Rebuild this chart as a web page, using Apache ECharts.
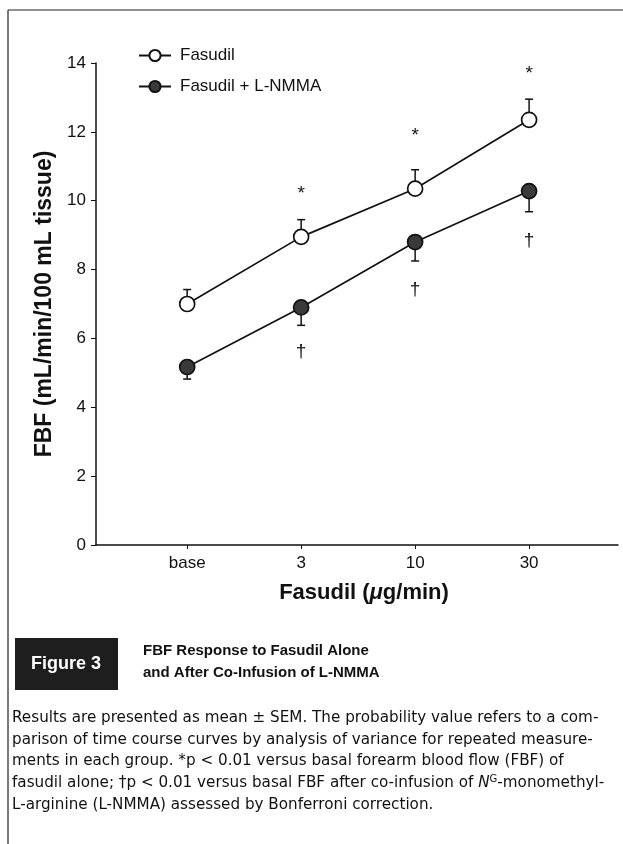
<!DOCTYPE html>
<html>
<head>
<meta charset="utf-8">
<script src="https://cdn.jsdelivr.net/npm/echarts@6/dist/echarts.min.js"></script>
<style>
  html, body { margin: 0; padding: 0; background: #fff; }
  #chart { width: 623px; height: 844px; }
</style>
</head>
<body>
<div id="chart"></div>
<script>
  // Données
  const doses = ['base', '3', '10', '30'];
  const fasudil = [7.0, 8.95, 10.35, 12.35];
  const fasudilSem = [0.42, 0.5, 0.55, 0.6];
  const lnmma = [5.17, 6.9, 8.8, 10.28];
  const lnmmaSem = [0.35, 0.52, 0.55, 0.6];
  const starY = [null, 10.2, 11.9, 13.7];
  const daggerY = [null, 5.6, 7.4, 8.85];
  const yTicks = [0, 2, 4, 6, 8, 10, 12, 14];

  const font = '"Liberation Sans", Arial, sans-serif';

  function pairs(vals) {
    return vals.map((v, i) => [i, v]);
  }

  // Barres d'erreur (dir = 1 vers le haut, -1 vers le bas)
  function errorSeries(vals, sem, dir) {
    return {
      type: 'custom',
      silent: true,
      z: 1,
      data: vals.map((v, i) => [i, v, sem[i]]),
      renderItem: (params, api) => {
        const x = api.value(0);
        const m = api.value(1);
        const s = api.value(2);
        const p0 = api.coord([x, m]);
        const p1 = api.coord([x, m + dir * s]);
        return {
          type: 'group',
          children: [
            { type: 'line', shape: { x1: p0[0], y1: p0[1], x2: p1[0], y2: p1[1] }, style: { stroke: '#111', lineWidth: 1.5 } },
            { type: 'line', shape: { x1: p1[0] - 4, y1: p1[1], x2: p1[0] + 4, y2: p1[1] }, style: { stroke: '#111', lineWidth: 1.5 } }
          ]
        };
      }
    };
  }

  // Symboles de significativité (* et †)
  function markSeries(ys, txt) {
    return {
      type: 'custom',
      silent: true,
      data: ys.map((v, i) => v == null ? null : [i, v]).filter(d => d),
      renderItem: (params, api) => {
        const p = api.coord([api.value(0), api.value(1)]);
        return {
          type: 'text',
          x: p[0],
          y: p[1],
          style: { text: txt, fill: '#111', fontSize: 19, fontFamily: font, align: 'center', verticalAlign: 'middle' }
        };
      }
    };
  }

  const chart = echarts.init(document.getElementById('chart'));

  const caption = [
    'Results are presented as mean \u00b1 SEM. The probability value refers to a com-',
    'parison of time course curves by analysis of variance for repeated measure-',
    'ments in each group. *p < 0.01 versus basal forearm blood flow (FBF) of',
    'fasudil alone; \u2020p < 0.01 versus basal FBF after co-infusion of {i|N}{s|G}-monomethyl-',
    'L-arginine (L-NMMA) assessed by Bonferroni correction.'
  ];

  const capFont = '"DejaVu Sans", sans-serif';
  const capSize = 15.2;

  const option = {
    backgroundColor: '#fff',
    animation: false,
    grid: { left: 96, right: 5, top: 63, bottom: 299, containLabel: false },
    legend: {
      orient: 'vertical',
      left: 133,
      top: 42,
      itemGap: 14,
      itemWidth: 32,
      itemHeight: 14,
      textStyle: { fontSize: 17, fontFamily: font, color: '#111', padding: [0, 0, 0, 4] },
      data: ['Fasudil', 'Fasudil + L-NMMA']
    },
    xAxis: {
      type: 'value',
      min: -0.8,
      max: 3.78,
      splitLine: { show: false },
      axisLine: { onZero: false, lineStyle: { color: '#111', width: 1.5 } },
      axisTick: { show: true, customValues: [0, 1, 2, 3], length: 4, inside: false, lineStyle: { color: '#111' } },
      axisLabel: {
        customValues: [0, 1, 2, 3],
        formatter: v => doses[Math.round(v)],
        fontSize: 17, fontFamily: font, color: '#111', margin: 10
      },
      name: 'Fasudil ({i|\u03bc}g/min)',
      nameLocation: 'middle',
      nameGap: 37,
      nameTextStyle: {
        fontSize: 22, fontWeight: 'bold', fontFamily: font, color: '#111',
        padding: [0, 0, 0, 14],
        rich: { i: { fontSize: 22, fontWeight: 'bold', fontStyle: 'italic', fontFamily: font, color: '#111' } }
      }
    },
    yAxis: {
      type: 'value',
      min: 0,
      max: 14,
      interval: 2,
      splitLine: { show: false },
      axisLine: { show: true, onZero: false, lineStyle: { color: '#111', width: 1.5 } },
      axisTick: { show: true, length: 5, lineStyle: { color: '#111' } },
      axisLabel: {
        fontSize: 17, fontFamily: font, color: '#111', margin: 10,
        formatter: v => yTicks.includes(v) ? String(v) : ''
      },
      name: 'FBF (mL/min/100 mL tissue)',
      nameLocation: 'middle',
      nameGap: 40,
      nameTextStyle: { fontSize: 23, fontWeight: 'bold', fontFamily: font, color: '#111' }
    },
    series: [
      errorSeries(fasudil, fasudilSem, 1),
      errorSeries(lnmma, lnmmaSem, -1),
      {
        name: 'Fasudil',
        type: 'line',
        z: 3,
        data: pairs(fasudil),
        symbol: 'circle',
        symbolSize: 15,
        lineStyle: { color: '#111', width: 1.7 },
        itemStyle: { color: '#fff', borderColor: '#111', borderWidth: 1.7 }
      },
      {
        name: 'Fasudil + L-NMMA',
        type: 'line',
        z: 3,
        data: pairs(lnmma),
        symbol: 'circle',
        symbolSize: 15,
        lineStyle: { color: '#111', width: 1.7 },
        itemStyle: { color: '#3a3a3a', borderColor: '#111', borderWidth: 1.7 }
      },
      markSeries(starY, '*'),
      markSeries(daggerY, '\u2020')
    ],
    graphic: [
      { type: 'line', shape: { x1: 8, y1: 10, x2: 623, y2: 10 }, style: { stroke: '#222', lineWidth: 1.2 } },
      { type: 'line', shape: { x1: 8, y1: 10, x2: 8, y2: 844 }, style: { stroke: '#222', lineWidth: 1.2 } },
      { type: 'rect', shape: { x: 15, y: 638, width: 103, height: 52 }, style: { fill: '#1e1e1e' } },
      { type: 'text', x: 66, y: 664, style: { text: 'Figure 3', fill: '#fff', fontSize: 18, fontWeight: 'bold', fontFamily: font, align: 'center', verticalAlign: 'middle' } },
      { type: 'text', x: 143, y: 651, style: { text: 'FBF Response to Fasudil Alone', fill: '#111', fontSize: 15, fontWeight: 'bold', fontFamily: font, verticalAlign: 'middle' } },
      { type: 'text', x: 143, y: 673, style: { text: 'and After Co-Infusion of L-NMMA', fill: '#111', fontSize: 15, fontWeight: 'bold', fontFamily: font, verticalAlign: 'middle' } },
      ...caption.map((line, k) => ({
        type: 'text',
        x: 12,
        y: 718 + k * 21.7,
        style: {
          text: line,
          fill: '#111',
          fontFamily: capFont,
          fontSize: capSize,
          verticalAlign: 'middle',
          rich: {
            i: { fontFamily: capFont, fontSize: capSize, fontStyle: 'italic', fill: '#111' },
            s: { fontFamily: capFont, fontSize: 10, fill: '#111', verticalAlign: 'top', padding: [0, 0, 7, 0] }
          }
        }
      }))
    ]
  };

  chart.setOption(option);
</script>
</body>
</html>
